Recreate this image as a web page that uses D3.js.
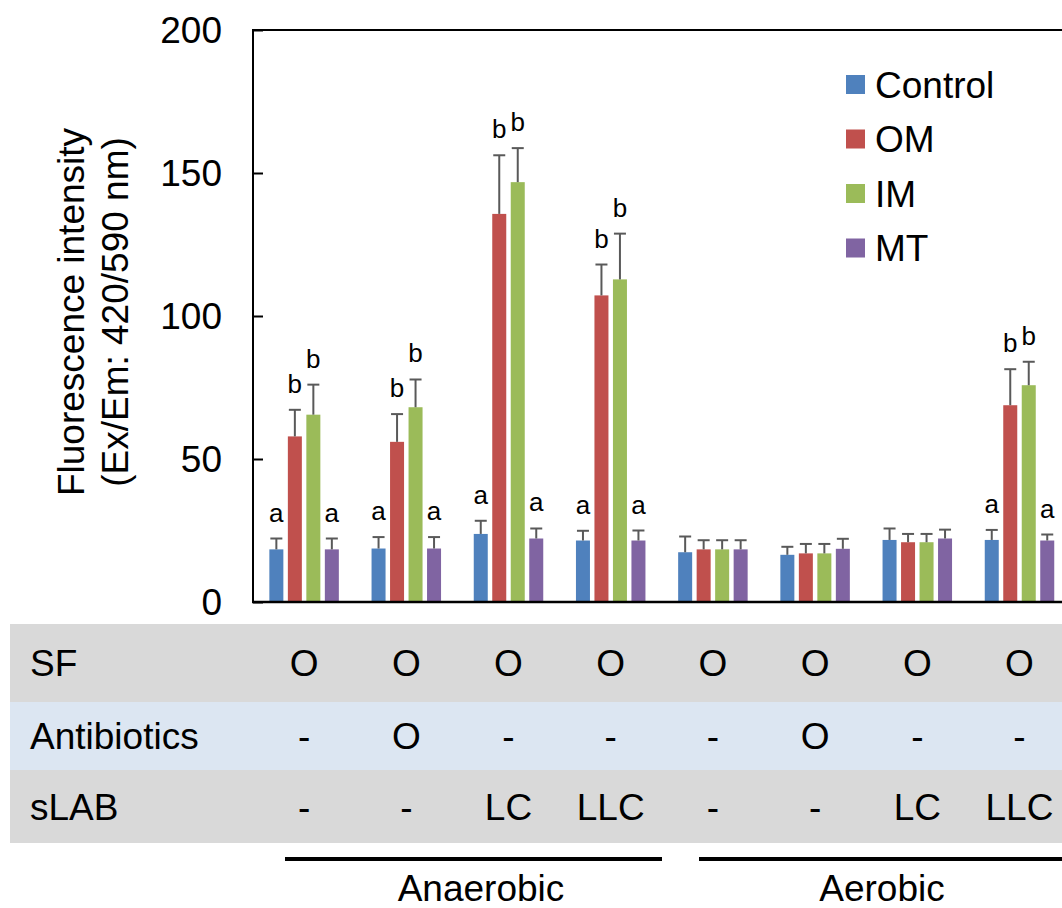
<!DOCTYPE html>
<html>
<head>
<meta charset="utf-8">
<script src="https://cdn.jsdelivr.net/npm/d3@7"></script>
<style>
  html, body { margin: 0; padding: 0; background: #fff; }
  svg { display: block; font-family: "Liberation Sans", Arial, sans-serif; }
</style>
</head>
<body>
<svg id="chart" width="1062" height="908"></svg>
<script>
// Sample groups (8 treatment conditions)
const groups = ["G1", "G2", "G3", "G4", "G5", "G6", "G7", "G8"];
const seriesNames = ["Control", "OM", "IM", "MT"];
const seriesColors = ["#4f81bd", "#c0504d", "#9bbb59", "#8064a2"];

// Mean fluorescence per series
const controlMean = [18.4, 18.7, 23.8, 21.5, 17.4, 16.5, 21.7, 21.7];
const omMean      = [57.9, 56.0, 135.7, 107.2, 18.4, 17.0, 20.9, 68.8];
const imMean      = [65.5, 68.1, 146.8, 112.8, 18.4, 17.0, 20.9, 75.8];
const mtMean      = [18.4, 18.7, 22.2, 21.5, 18.4, 18.6, 22.2, 21.5];

// Standard deviation (upper error bars)
const controlErr = [3.8, 4.0, 4.6, 3.4, 5.5, 2.8, 4.0, 3.5];
const omErr      = [9.3, 9.7, 20.5, 10.8, 3.2, 3.3, 2.9, 12.6];
const imErr      = [10.5, 9.7, 11.9, 16.0, 3.2, 3.3, 2.9, 8.2];
const mtErr      = [3.8, 4.0, 3.5, 3.5, 3.2, 3.5, 3.1, 2.1];

// Significance letters
const controlSig = ["a", "a", "a", "a", "", "", "", "a"];
const omSig      = ["b", "b", "b", "b", "", "", "", "b"];
const imSig      = ["b", "b", "b", "b", "", "", "", "b"];
const mtSig      = ["a", "a", "a", "a", "", "", "", "a"];

// Y axis ticks
const yTicks = [0, 50, 100, 150, 200];

// Treatment table rows
const tableRowLabels = ["SF", "Antibiotics", "sLAB"];
const sfRow          = ["O", "O", "O", "O", "O", "O", "O", "O"];
const antibioticsRow = ["-", "O", "-", "-", "-", "O", "-", "-"];
const slabRow        = ["-", "-", "LC", "LLC", "-", "-", "LC", "LLC"];

// Culture condition brackets
const conditions = ["Anaerobic", "Aerobic"];

const means = [controlMean, omMean, imMean, mtMean];
const errs = [controlErr, omErr, imErr, mtErr];
const sigs = [controlSig, omSig, imSig, mtSig];
const tableRows = [sfRow, antibioticsRow, slabRow];

const svg = d3.select("#chart");
const FONT = 37;

// Scales
const plotLeft = 253, plotTop = 30, plotBottom = 602;
const bandW = 102.2;
const x0 = d3.scaleBand().domain(groups)
  .range([plotLeft, plotLeft + bandW * groups.length]).padding(0);
const x1 = d3.scaleBand().domain(seriesNames)
  .range([0, x0.bandwidth()]).paddingInner(0.243).paddingOuter(0.884);
const y = d3.scaleLinear().domain([0, 200]).range([plotBottom, plotTop]);

// Bars, error bars and letters
const barData = [];
seriesNames.forEach((s, si) => {
  groups.forEach((g, gi) => {
    barData.push({ g, s, si, v: means[si][gi], e: errs[si][gi], sig: sigs[si][gi] });
  });
});

const barsG = svg.append("g");
barsG.selectAll("rect").data(barData).join("rect")
  .attr("x", d => x0(d.g) + x1(d.s))
  .attr("y", d => y(d.v))
  .attr("width", x1.bandwidth())
  .attr("height", d => y(0) - y(d.v))
  .attr("fill", d => seriesColors[d.si]);

const errG = svg.append("g").attr("stroke", "#595959").attr("stroke-width", 2);
const capHalf = 6;
barData.forEach(d => {
  const cx = x0(d.g) + x1(d.s) + x1.bandwidth() / 2;
  errG.append("line").attr("x1", cx).attr("x2", cx)
    .attr("y1", y(d.v)).attr("y2", y(d.v + d.e));
  errG.append("line").attr("x1", cx - capHalf).attr("x2", cx + capHalf)
    .attr("y1", y(d.v + d.e)).attr("y2", y(d.v + d.e));
});

svg.append("g").selectAll("text").data(barData.filter(d => d.sig)).join("text")
  .attr("x", d => x0(d.g) + x1(d.s) + x1.bandwidth() / 2)
  .attr("y", d => y(d.v + d.e) - 17)
  .attr("text-anchor", "middle")
  .attr("font-size", 26)
  .attr("fill", "#000")
  .text(d => d.sig);

// Axes frame
const frame = svg.append("g").attr("stroke", "#000").attr("fill", "none");
frame.append("line").attr("x1", plotLeft).attr("x2", plotLeft)
  .attr("y1", plotTop - 1).attr("y2", plotBottom + 1).attr("stroke-width", 2);
frame.append("line").attr("x1", plotLeft - 1).attr("x2", 1062)
  .attr("y1", plotTop).attr("y2", plotTop).attr("stroke-width", 2);
frame.append("line").attr("x1", plotLeft - 1).attr("x2", 1062)
  .attr("y1", plotBottom).attr("y2", plotBottom).attr("stroke-width", 2.6);

// Y axis with inward ticks
const yAxis = d3.axisRight(y).tickValues(yTicks).tickSize(10).tickFormat("");
const yAxisG = svg.append("g").attr("transform", `translate(${plotLeft},0)`).call(yAxis);
yAxisG.select(".domain").remove();
yAxisG.selectAll(".tick line").attr("stroke", "#000").attr("stroke-width", 2);

svg.append("g").selectAll("text").data(yTicks).join("text")
  .attr("x", 222)
  .attr("y", d => y(d))
  .attr("dy", "0.36em")
  .attr("text-anchor", "end")
  .attr("font-size", FONT)
  .text(d => d);

// Y axis title
const yTitle = svg.append("text")
  .attr("transform", "translate(0,312) rotate(-90)")
  .attr("text-anchor", "middle")
  .attr("font-size", FONT);
yTitle.append("tspan").attr("x", 0).attr("y", 84).text("Fluorescence intensity");
yTitle.append("tspan").attr("x", 0).attr("y", 128).text("(Ex/Em: 420/590 nm)");

// Legend
const legend = svg.append("g").attr("transform", "translate(846,75)");
seriesNames.forEach((s, i) => {
  const row = legend.append("g").attr("transform", `translate(0,${i * 54.5})`);
  row.append("rect").attr("width", 19).attr("height", 19).attr("fill", seriesColors[i]);
  row.append("text").attr("x", 29).attr("y", 9.5).attr("dy", "0.36em")
    .attr("font-size", FONT).text(s);
});

// Treatment table
const rowTops = [624, 702, 770];
const rowHeights = [78, 68, 73];
const rowFills = ["#d9d9d9", "#dce6f2", "#d9d9d9"];
const table = svg.append("g");
tableRowLabels.forEach((label, r) => {
  table.append("rect").attr("x", 10).attr("y", rowTops[r])
    .attr("width", 1062 - 10).attr("height", rowHeights[r]).attr("fill", rowFills[r]);
  const cy = rowTops[r] + rowHeights[r] / 2;
  table.append("text").attr("x", 30).attr("y", cy).attr("dy", "0.36em")
    .attr("font-size", FONT).text(label);
  table.append("g").selectAll("text").data(groups).join("text")
    .attr("x", g => x0(g) + x0.bandwidth() / 2)
    .attr("y", cy).attr("dy", "0.36em")
    .attr("text-anchor", "middle")
    .attr("font-size", FONT)
    .text((g, gi) => tableRows[r][gi]);
});

// Condition brackets with their captions
const bracketXs = [[285, 662], [699, 1062]];
const captionXs = [481, 882];
conditions.forEach((c, i) => {
  const xa = bracketXs[i][0], xb = bracketXs[i][1];
  svg.append("line").attr("x1", xa).attr("x2", xb)
    .attr("y1", 859).attr("y2", 859)
    .attr("stroke", "#000").attr("stroke-width", 4);
  svg.append("text").attr("x", captionXs[i]).attr("y", 901)
    .attr("text-anchor", "middle").attr("font-size", FONT).text(c);
});
</script>
</body>
</html>
